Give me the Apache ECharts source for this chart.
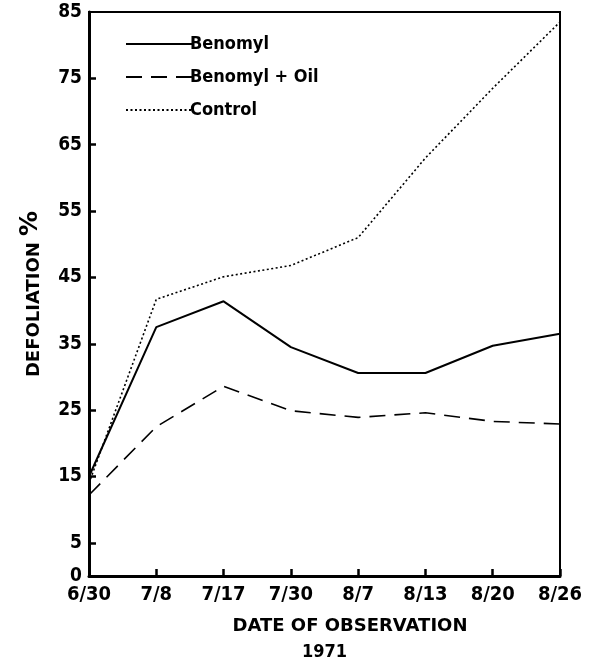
<!DOCTYPE html>
<html><head><meta charset="utf-8">
<script src="https://cdn.jsdelivr.net/npm/echarts@6/dist/echarts.min.js"></script>
<style>html,body{margin:0;padding:0;background:#fff}#c{width:594px;height:664px}</style>
</head><body><div id="c"></div>
<script>
var dates = ['6/30','7/8','7/17','7/30','8/7','8/13','8/20','8/26'];
var benomyl = [15, 37.5, 41.4, 34.5, 30.6, 30.6, 34.7, 36.5];
var benomylOil = [12.2, 22.5, 28.6, 24.9, 23.9, 24.6, 23.3, 22.9];
var control = [14, 41.7, 45.1, 46.8, 51.0, 63.0, 73.5, 83.5];
var yTickLabels = [0, 5, 15, 25, 35, 45, 55, 65, 75, 85];
var yTickMarks = [5, 15, 25, 35, 45, 55, 65, 75];

var COND = '"DejaVu Sans Condensed","Liberation Sans Narrow",sans-serif';
var WIDE = '"DejaVu Sans",sans-serif';
var chart = echarts.init(document.getElementById('c'), null, {renderer:'canvas'});
chart.setOption({
  backgroundColor:'#fff',
  animation:false,
  grid:{left:89,right:34,top:12,bottom:88,outerBoundsMode:'none',containLabel:false,show:true,borderColor:'#000',borderWidth:2,backgroundColor:'transparent',z:0},
  legend:{
    orient:'vertical', left:120, top:30, itemWidth:67, itemHeight:10, itemGap:15,
    itemStyle:{opacity:0},
    textStyle:{fontFamily:COND,fontWeight:'bold',fontSize:18,color:'#000',padding:[0,0,0,-8]},
    data:['Benomyl','Benomyl + Oil','Control']
  },
  xAxis:{
    type:'category', data:dates, boundaryGap:false, z:5,
    axisLine:{lineStyle:{color:'#000',width:3}},
    axisTick:{show:true,inside:true,length:7,lineStyle:{color:'#000',width:2.5}},
    axisLabel:{fontFamily:COND,fontWeight:'bold',fontSize:20,color:'#000',margin:9},
    name:'{a|DATE OF OBSERVATION}\n{b|1971}', nameLocation:'middle', nameGap:37,
    nameTextStyle:{lineHeight:26,rich:{
      a:{fontFamily:WIDE,fontWeight:'bold',fontSize:18,color:'#000',lineHeight:26,padding:[0,0,0,51]},
      b:{fontFamily:COND,fontWeight:'bold',fontSize:18,color:'#000',lineHeight:26}
    }}
  },
  yAxis:{
    type:'value', min:0, max:85, z:5,
    splitLine:{show:false},
    axisLine:{show:true,lineStyle:{color:'#000',width:3}},
    axisTick:{show:true,inside:true,length:7,customValues:yTickMarks,lineStyle:{color:'#000',width:2.5}},
    axisLabel:{fontFamily:COND,fontWeight:'bold',fontSize:19,color:'#000',margin:7,customValues:yTickLabels},
    name:'{a|DEFOLIATION }{b|%}', nameLocation:'middle', nameGap:46, nameRotate:90,
    nameTextStyle:{rich:{
      a:{fontFamily:WIDE,fontWeight:'bold',fontSize:18,color:'#000',verticalAlign:'bottom'},
      b:{fontFamily:WIDE,fontWeight:'bold',fontSize:25,color:'#000',verticalAlign:'bottom'}
    }}
  },
  series:[
    {name:'Benomyl',type:'line',data:benomyl,symbol:'none',lineStyle:{color:'#000',width:2,type:'solid'},itemStyle:{color:'#000'}},
    {name:'Benomyl + Oil',type:'line',data:benomylOil,symbol:'none',lineStyle:{color:'#000',width:1.6,type:[16,9]},itemStyle:{color:'#000'}},
    {name:'Control',type:'line',data:control,symbol:'none',lineStyle:{color:'#000',width:1.6,type:[2,2.5]},itemStyle:{color:'#000'}}
  ]
});
</script></body></html>
